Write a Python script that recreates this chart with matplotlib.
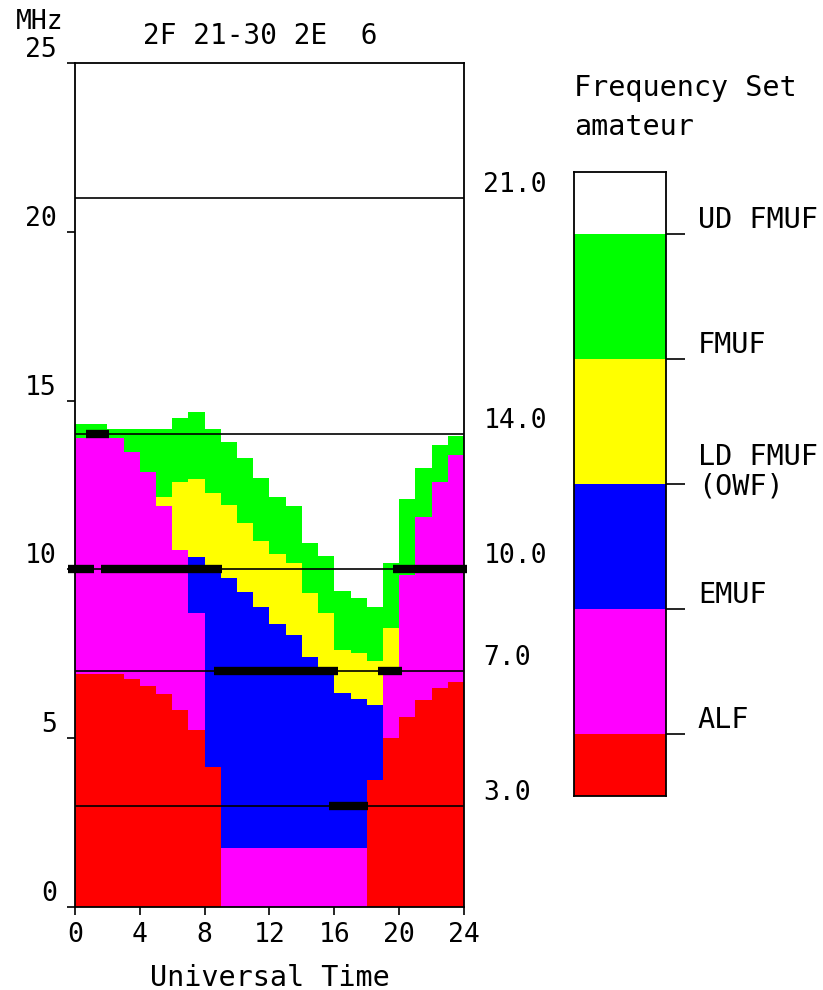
import numpy as np
import matplotlib.pyplot as plt

plt.rcParams['font.family'] = ['DejaVu Sans Mono']

# hourly band tops (MHz), hour h covers h..h+1 UT
hours = np.arange(24)
red_top = np.array([6.9, 6.9, 6.9, 6.75, 6.55, 6.3, 5.83, 5.24, 4.15,
                    0, 0, 0, 0, 0, 0, 0, 0, 0,
                    3.76, 5.0, 5.63, 6.13, 6.48, 6.67])
magenta_top = np.array([13.9, 13.9, 13.9, 13.49, 12.9, 11.87, 10.57, 8.7, 4.15,
                        1.74, 1.74, 1.74, 1.74, 1.74, 1.74, 1.74, 1.74, 1.74,
                        3.76, 7.0, 9.85, 11.56, 12.6, 13.39])
blue_top = np.array([13.9, 13.9, 13.9, 13.49, 12.9, 11.87, 10.57, 10.37, 10.13,
                     9.74, 9.34, 8.89, 8.38, 8.06, 7.4, 7.05, 6.34, 6.16,
                     5.98, 7.0, 9.85, 11.56, 12.6, 13.39])
yellow_top = np.array([13.9, 13.9, 13.9, 13.49, 12.9, 12.15, 12.6, 12.68, 12.27,
                       11.9, 11.38, 10.85, 10.46, 10.19, 9.3, 8.7, 7.61, 7.52,
                       7.3, 8.26, 9.85, 11.56, 12.6, 13.39])
green_top = np.array([14.3, 14.3, 14.16, 14.16, 14.16, 14.16, 14.48, 14.66, 14.16,
                      13.78, 13.3, 12.7, 12.15, 11.87, 10.78, 10.4, 9.36, 9.16,
                      8.89, 10.2, 12.08, 13.0, 13.7, 13.95])

# amateur band reference lines
ref_freqs = [21.0, 14.0, 10.0, 7.0, 3.0]
ref_labels = ['21.0', '14.0', '10.0', '7.0', '3.0']

# thick segments on the band lines (freq, start UT, end UT)
seg_freq = [14.0, 10.0, 10.0, 10.0, 7.0, 7.0, 3.0]
seg_start = [0.65, -0.4, 1.6, 19.6, 8.6, 18.7, 15.7]
seg_end = [2.1, 1.2, 9.1, 24.2, 16.2, 20.2, 18.1]

leg_labels = ['ALF', 'EMUF', 'LD FMUF\n(OWF)', 'FMUF', 'UD FMUF']
leg_colors = ['#ff0000', '#ff00ff', '#0000ff', '#ffff00', '#00ff00', '#ffffff']

fig = plt.figure(figsize=(8.23, 9.90), dpi=100)
ax = fig.add_axes([0.0911, 0.0838, 0.4727, 0.8525])

bands = [(np.zeros(24), red_top), (red_top, magenta_top), (magenta_top, blue_top),
         (blue_top, yellow_top), (yellow_top, green_top)]
for (lo, hi), c in zip(bands, leg_colors):
    ax.bar(hours, hi - lo, bottom=lo, width=1, align='edge', color=c,
           linewidth=0, antialiased=False)

for f, lbl in zip(ref_freqs, ref_labels):
    ax.axhline(f, color='black', lw=1.2)
    ax.annotate(lbl, xy=(1, f), xycoords=('axes fraction', 'data'),
                xytext=(14, 0), textcoords='offset points',
                ha='left', va='bottom', fontsize=19)

ax.hlines(seg_freq, seg_start, seg_end, colors='black', lw=6, clip_on=False, zorder=5)

ax.set_xlim(0, 24)
ax.set_ylim(0, 25)
ax.set_xticks(np.arange(0, 25, 4))
ax.set_yticks(np.arange(0, 26, 5))
ax.set_yticklabels([])
for v in range(0, 26, 5):
    ax.annotate(str(v), xy=(0, v), xycoords=('axes fraction', 'data'),
                xytext=(-13, 0), textcoords='offset points',
                ha='right', va='bottom', fontsize=19)
ax.tick_params(axis='both', direction='out', length=6, width=1.2, labelsize=19, pad=5)
for s in ax.spines.values():
    s.set_linewidth(1.3)
ax.set_xlabel('Universal Time', fontsize=20.5, labelpad=11)

fig.text(40 / 823, 1 - 22 / 990, 'MHz', ha='center', va='center', fontsize=19)
fig.text(260 / 823, 1 - 36 / 990, '2F 21-30 2E  6', ha='center', va='center', fontsize=20)
fig.text(574 / 823, 1 - 88 / 990, 'Frequency Set', ha='left', va='center', fontsize=20.5)
fig.text(574 / 823, 1 - 127 / 990, 'amateur', ha='left', va='center', fontsize=20.5)

# legend colour column
lax = fig.add_axes([0.6974, 0.1960, 0.1118, 0.6303])
bounds = np.array([0, 0.5, 1.5, 2.5, 3.5, 4.5, 5.0])
lax.bar(0, np.diff(bounds), bottom=bounds[:-1], width=1, color=leg_colors,
        linewidth=0, antialiased=False)
lax.set_xlim(-0.5, 0.5)
lax.set_ylim(0, 5)
lax.set_xticks([])
lax.yaxis.tick_right()
lax.set_yticks(bounds[1:-1])
lax.set_yticklabels([])
lax.tick_params(axis='y', direction='out', length=14, width=1.2)
for s in lax.spines.values():
    s.set_linewidth(1.3)
for y, lbl in zip(bounds[1:-1], leg_labels):
    if '\n' in lbl:
        lax.annotate(lbl, xy=(1, y), xycoords=('axes fraction', 'data'),
                     xytext=(23, 9), textcoords='offset points',
                     ha='left', va='center', fontsize=20.5, linespacing=1.05)
    else:
        lax.annotate(lbl, xy=(1, y), xycoords=('axes fraction', 'data'),
                     xytext=(23, 0), textcoords='offset points',
                     ha='left', va='bottom', fontsize=20.5)

fig.savefig('out.png', dpi=100)
